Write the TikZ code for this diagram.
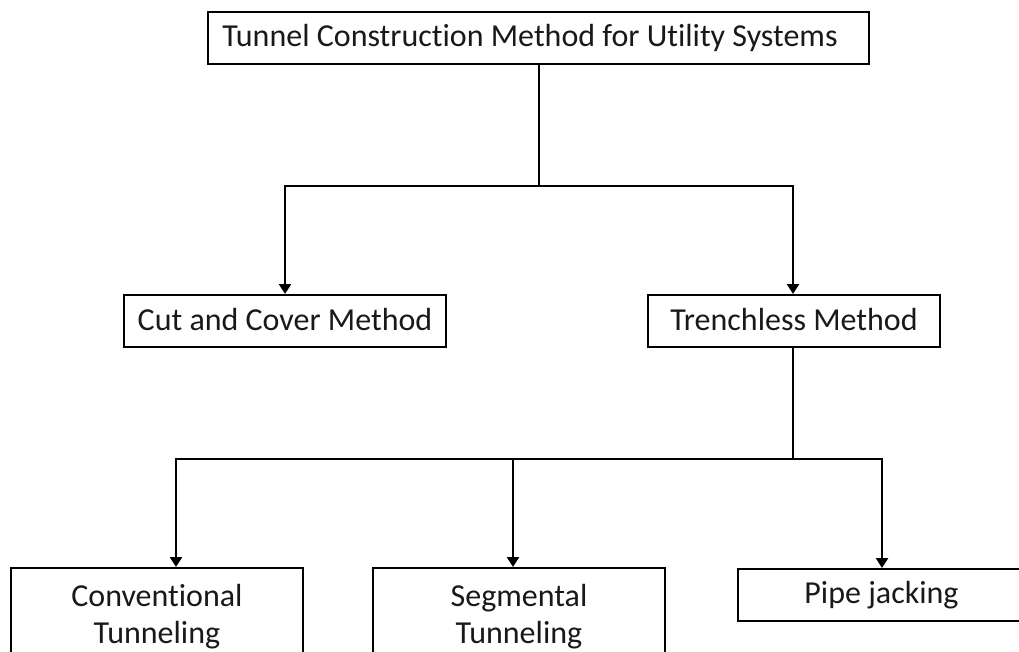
\documentclass[tikz,border=0pt]{standalone}
\usepackage{fontspec}
\setmainfont{Carlito}[Ligatures={NoCommon}]
\usetikzlibrary{arrows.meta}

\begin{document}
\begin{tikzpicture}[x=1pt,y=-1pt,
  txt/.style={font=\fontsize{32}{37}\selectfont, text=black!90},
  box/.style={draw=black, line width=2pt, rectangle, inner sep=0pt, txt,
    text height=22pt, text depth=4pt},
  tallbox/.style={draw=black, line width=2pt, rectangle, inner xsep=0pt,
    inner ysep=16.5pt, txt, align=center, anchor=north},
  wire/.style={draw=black, line width=2.6pt},
  arrowline/.style={wire, -{Triangle[width=12pt,length=10pt]}}]

  % page frame
  \useasboundingbox (0,0) rectangle (1019,652);
  \clip (0,0) rectangle (1019,652);
  \fill[white] (0,0) rectangle (1019,652);

  % first level
  \node[box, minimum width=661pt, minimum height=52pt] (top) at (538.5,38) {};
  \node[box, draw=none] (toptext) at (530,38)
    {Tunnel Construction Method for Utility Systems};

  % second level
  \node[box, minimum width=322pt, minimum height=52pt] (cut) at (285,321)
    {Cut and Cover Method};
  \node[box, minimum width=292pt, minimum height=52pt] (trench) at (794,321)
    {Trenchless Method};

  % third level
  \node[tallbox, text width=292pt] (conv) at (157,567)
    {Conventional\\Tunneling};
  \node[tallbox, text width=292pt] (seg) at (519,567)
    {Segmental\\Tunneling};
  \node[box, anchor=north west, minimum width=320pt, minimum height=52pt]
    (pipe) at (737,568) {};
  \node[box, draw=none] (pipetext) at (881.5,594) {Pipe jacking};

  % branch points
  \coordinate (hubA) at (539,186);
  \coordinate (hubB) at (793,459);

  % connectors
  \draw[wire] (top.south -| hubA) -- (hubA);
  \draw[arrowline] (hubA) -| (cut.north);
  \draw[arrowline] (hubA) -| (trench.north -| hubB);

  \draw[wire] (trench.south -| hubB) -- (hubB);
  \draw[arrowline] (hubB) -| ([xshift=19pt]conv.north);
  \draw[arrowline] (hubB) -| ([xshift=-6pt]seg.north);
  \draw[arrowline] (hubB) -| (pipe.north -| 882,0);
\end{tikzpicture}
\end{document}
